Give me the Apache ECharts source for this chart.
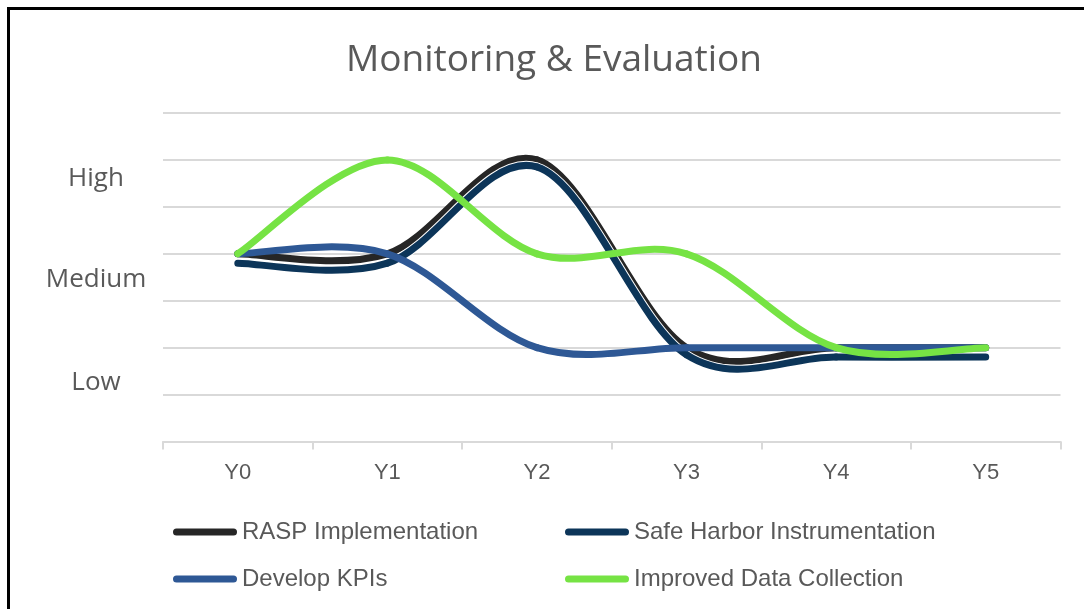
<!DOCTYPE html>
<html>
<head>
<meta charset="utf-8">
<script src="https://cdn.jsdelivr.net/npm/echarts@6/dist/echarts.min.js"></script>
<style>
  html, body { margin: 0; padding: 0; background: #fff; }
  #chart { width: 1084px; height: 609px; }
  .frame {
    position: absolute;
    left: 7px;
    top: 7px;
    width: 1100px;
    height: 620px;
    border-left: 3px solid #000;
    border-top: 3px solid #000;
    pointer-events: none;
  }
</style>
</head>
<body>
<div id="chart"></div>
<div class="frame"></div>
<script>
const years = ['Y0', 'Y1', 'Y2', 'Y3', 'Y4', 'Y5']

const raspImplementation = [4, 4, 6, 2, 2, 2]
const safeHarborInstrumentation = [3.8, 3.8, 5.85, 1.85, 1.8, 1.8]
const developKpis = [4, 4, 2, 2, 2, 2]
const improvedDataCollection = [4, 6, 4, 4, 2, 2]

const levelLabels = ['Low', 'Medium', 'High']
const levelValues = [1.26, 3.44, 5.6]

const seriesNames = [
  'RASP Implementation',
  'Safe Harbor Instrumentation',
  'Develop KPIs',
  'Improved Data Collection',
]
const seriesColors = ['#262626', '#0c3559', '#2e5895', '#76e344']
const seriesData = [raspImplementation, safeHarborInstrumentation, developKpis, improvedDataCollection]
// the safe harbor line has a thin white edge where it crosses the black one
const seriesOutline = [false, true, false, false]

const textColor = '#595959'
const gridColor = '#d9d9d9'
const legendFont = "'Liberation Sans', sans-serif"
const capsule = 'path://M3.5,0 H60.5 A3.5,3.5 0 0 1 60.5,7 H3.5 A3.5,3.5 0 0 1 3.5,0 Z'

// Excel-style smoothing: one cubic bezier per segment, Catmull-Rom control points
function bezierShapes(values, api) {
  const n = values.length
  const p = (k) => {
    const j = Math.min(Math.max(k, 0), n - 1)
    return api.coord([j, values[j]])
  }
  const shapes = []
  for (let i = 0; i < n - 1; i++) {
    const p0 = p(i - 1)
    const p1 = p(i)
    const p2 = p(i + 1)
    const p3 = p(i + 2)
    shapes.push({
      x1: p1[0],
      y1: p1[1],
      x2: p2[0],
      y2: p2[1],
      cpx1: p1[0] + (p2[0] - p0[0]) / 6,
      cpy1: p1[1] + (p2[1] - p0[1]) / 6,
      cpx2: p2[0] - (p3[0] - p1[0]) / 6,
      cpy2: p2[1] - (p3[1] - p1[1]) / 6,
    })
  }
  return shapes
}

function smoothLine(values, color, outline) {
  return function (params, api) {
    if (params.dataIndex !== 0) return null
    const shapes = bezierShapes(values, api)
    const children = []
    if (outline) {
      shapes.forEach((shape) => {
        children.push({
          type: 'bezierCurve',
          shape: shape,
          style: { stroke: '#ffffff', fill: null, lineWidth: 9, lineCap: 'round' },
        })
      })
    }
    shapes.forEach((shape) => {
      children.push({
        type: 'bezierCurve',
        shape: shape,
        style: { stroke: color, fill: null, lineWidth: 7, lineCap: 'round' },
      })
    })
    return { type: 'group', children: children }
  }
}

function legendBlock(left, names) {
  return {
    left: left,
    top: 512,
    orient: 'vertical',
    itemWidth: 64,
    itemHeight: 7,
    itemGap: 17,
    icon: capsule,
    data: names,
    textStyle: {
      color: textColor,
      fontFamily: legendFont,
      fontSize: 24,
      lineHeight: 30,
    },
  }
}

const chart = echarts.init(document.getElementById('chart'), null, { renderer: 'canvas' })

chart.setOption({
  animation: false,
  title: {
    text: 'Monitoring & Evaluation',
    left: 549,
    top: 36,
    textAlign: 'center',
    textStyle: {
      color: textColor,
      fontFamily: "'Open Sans', sans-serif",
      fontWeight: 'normal',
      fontSize: 37,
      lineHeight: 38,
    },
  },
  legend: [
    legendBlock(168, [seriesNames[0], seriesNames[2]]),
    legendBlock(560, [seriesNames[1], seriesNames[3]]),
  ],
  grid: {
    left: 163,
    right: 23.5,
    top: 113,
    bottom: 167.5,
  },
  xAxis: {
    type: 'category',
    data: years,
    boundaryGap: true,
    axisLine: { lineStyle: { color: gridColor, width: 2 } },
    axisTick: { show: true, length: 8, lineStyle: { color: gridColor, width: 2 } },
    axisLabel: {
      color: textColor,
      fontFamily: legendFont,
      fontSize: 22,
      margin: 20,
    },
  },
  yAxis: [
    {
      type: 'value',
      min: 0,
      max: 7,
      interval: 1,
      axisLine: { show: false },
      axisTick: { show: false },
      axisLabel: { show: false },
      splitLine: { lineStyle: { color: gridColor, width: 2 } },
    },
    {
      type: 'value',
      position: 'left',
      min: 0,
      max: 7,
      axisLine: { show: false },
      axisTick: { show: false },
      splitLine: { show: false },
      axisLabel: {
        customValues: levelValues,
        formatter: (v) => levelLabels[levelValues.indexOf(v)] || '',
        color: textColor,
        fontFamily: "'Open Sans', sans-serif",
        fontSize: 26,
        align: 'center',
        margin: 67,
      },
    },
  ],
  series: seriesNames.map((name, i) => ({
    name: name,
    type: 'custom',
    data: seriesData[i].map((v, k) => [k, v]),
    encode: { x: 0, y: 1 },
    itemStyle: { color: seriesColors[i] },
    renderItem: smoothLine(seriesData[i], seriesColors[i], seriesOutline[i]),
  })),
})
</script>
</body>
</html>
